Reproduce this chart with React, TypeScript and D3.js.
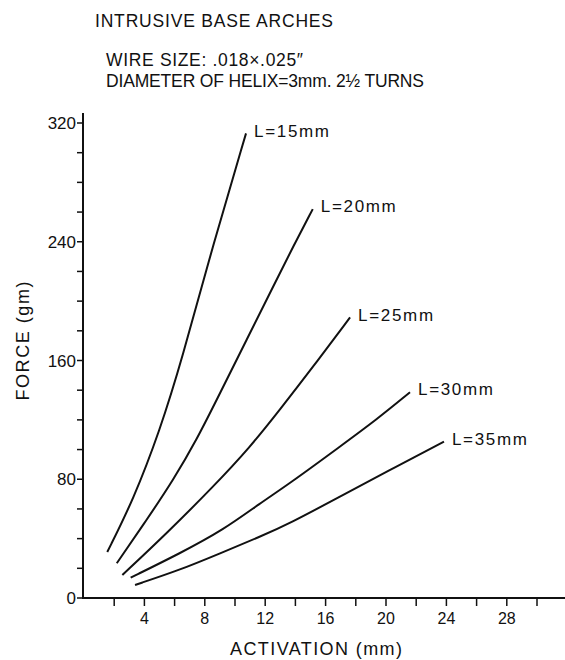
import React from "react";
import * as d3 from "d3";

const seriesNames = ["L=15mm", "L=20mm", "L=25mm", "L=30mm", "L=35mm"];
const activation15 = [1.54, 3.26, 5.03, 6.47, 8.6, 10.73];
const force15 = [31, 66, 113, 160, 240, 313];
const activation20 = [2.17, 4.15, 5.91, 7.46, 9.01, 10.77, 12.54, 13.86, 15.15];
const force20 = [23.4, 52.6, 79.5, 106.5, 138, 174, 210, 237, 262];
const activation25 = [2.54, 5.48, 8.56, 10.99, 12.98, 15.19, 17.62];
const force25 = [15.5, 43.6, 75, 101.5, 127, 156, 189];
const activation30 = [3.09, 6.36, 9.22, 11.66, 13.64, 16.95, 19.38, 21.59];
const force30 = [13.7, 30.1, 45.8, 63.8, 77.3, 102, 120.2, 138.6];
const activation35 = [3.38, 6.36, 9.01, 11.66, 13.64, 16.95, 20.26, 23.84];
const force35 = [8.8, 18.9, 30.1, 41.3, 50.3, 68.3, 86.3, 105.3];

const xTickLabels = [4, 8, 12, 16, 20, 24, 28];
const xMinorTicks = [2, 4, 6, 8, 10, 12, 14, 16, 18, 20, 22, 24, 26, 28, 30];
const yTickLabels = [0, 80, 160, 240, 320];
const yMinorTicks = d3.range(0, 321, 20);

const titleText = "INTRUSIVE  BASE  ARCHES";
const subtitle1 = "WIRE SIZE:  .018\u00D7.025\u2033";
const subtitle2 = "DIAMETER OF HELIX=3mm. 2\u00BD TURNS";
const xTitle = "ACTIVATION (mm)";
const yTitle = "FORCE (gm)";

const FONT = "'Liberation Sans', Arial, sans-serif";

export default function App() {
  const W = 565, H = 660;
  const x = d3.scaleLinear().domain([0, 30]).range([84, 84 + 15.1 * 30]);
  const y = d3.scaleLinear().domain([0, 320]).range([598, 123]);
  const series = [
    [activation15, force15],
    [activation20, force20],
    [activation25, force25],
    [activation30, force30],
    [activation35, force35],
  ];
  const line = d3
    .line<[number, number]>()
    .x((d) => x(d[0]))
    .y((d) => y(d[1]))
    .curve(d3.curveBasis);

  const axisX0 = x(0) - 1;
  return (
    <svg
      width={W}
      height={H}
      style={{ position: "absolute", left: 0, top: 0, background: "#fff" }}
      fontFamily={FONT}
    >
      <rect width={W} height={H} fill="#fff" />
      {/* titles */}
      <text x={95} y={27} fontSize={17.5} textLength={238} lengthAdjust="spacing" fill="#111">
        {titleText}
      </text>
      <text x={106} y={66} fontSize={17.5} textLength={197} lengthAdjust="spacing" fill="#111">
        {subtitle1}
      </text>
      <text x={106} y={87} fontSize={17.5} textLength={318} lengthAdjust="spacing" fill="#111">
        {subtitle2}
      </text>

      {/* axes */}
      <line x1={axisX0} x2={axisX0} y1={113} y2={y(0) + 1} stroke="#111" strokeWidth={2} />
      <line x1={axisX0 - 1} x2={565} y1={y(0)} y2={y(0)} stroke="#111" strokeWidth={2} />
      {yMinorTicks.map((t) => (
        <line key={"yt" + t} x1={axisX0 - 6} x2={axisX0} y1={y(t)} y2={y(t)} stroke="#111" strokeWidth={1.5} />
      ))}
      {yTickLabels.map((t) => (
        <text key={"yl" + t} x={axisX0 - 7} y={y(t)} dy="0.36em" textAnchor="end" fontSize={17} fill="#111">
          {t}
        </text>
      ))}
      {xMinorTicks.map((t) => (
        <line key={"xt" + t} x1={x(t)} x2={x(t)} y1={y(0)} y2={y(0) + 8} stroke="#111" strokeWidth={1.5} />
      ))}
      {xTickLabels.map((t) => (
        <text key={"xl" + t} x={x(t)} y={624} textAnchor="middle" fontSize={16} fill="#111">
          {t}
        </text>
      ))}
      <text x={316} y={655} textAnchor="middle" fontSize={18} textLength={172} lengthAdjust="spacing" fill="#111">
        {xTitle}
      </text>
      <text
        transform={`translate(29,341) rotate(-90)`}
        textAnchor="middle"
        fontSize={18}
        textLength={119}
        lengthAdjust="spacing"
        fill="#111"
      >
        {yTitle}
      </text>

      {/* curves */}
      {series.map(([xs, ys], i) => {
        const pts = xs.map((v, j) => [v, ys[j]] as [number, number]);
        const last = pts[pts.length - 1];
        return (
          <g key={"s" + i}>
            <path d={line(pts) || ""} fill="none" stroke="#111" strokeWidth={2} />
            <text
              x={x(last[0]) + 8}
              y={y(last[1]) - 3}
              dy="0.36em"
              fontSize={17}
              textLength={75}
              lengthAdjust="spacing"
              fill="#111"
            >
              {seriesNames[i]}
            </text>
          </g>
        );
      })}
    </svg>
  );
}
